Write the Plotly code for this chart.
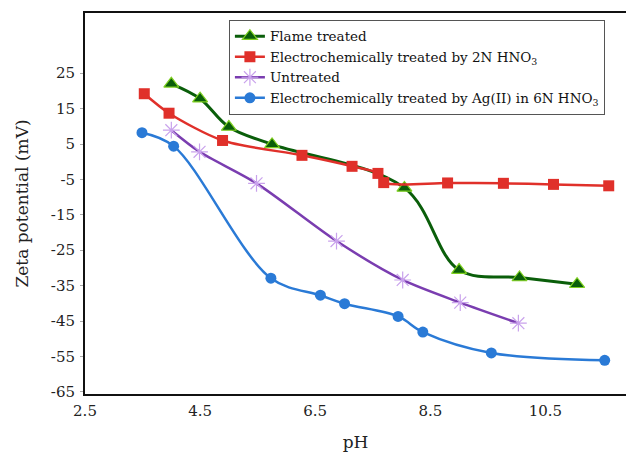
import plotly.graph_objects as go

# Data
flame_x = [4.0, 4.5, 5.0, 5.75, 8.05, 9.0, 10.05, 11.05]
flame_y = [22.0, 17.8, 9.8, 4.9, -7.4, -30.6, -32.7, -34.6]

hno3_x = [3.53, 3.96, 4.89, 6.27, 7.14, 7.59, 7.69, 8.80, 9.77, 10.64, 11.60]
hno3_y = [19.2, 13.7, 6.0, 1.8, -1.3, -3.3, -5.9, -6.0, -6.1, -6.4, -6.8]

untr_x = [4.0, 4.49, 5.48, 6.87, 8.02, 9.02, 10.03]
untr_y = [8.9, 2.8, -6.1, -22.4, -33.4, -39.8, -45.6]

ag_x = [3.49, 4.04, 5.73, 6.59, 7.01, 7.94, 8.37, 9.56, 11.53]
ag_y = [8.2, 4.4, -32.9, -37.7, -40.1, -43.7, -48.1, -54.0, -56.1]

x_ticks = [2.5, 4.5, 6.5, 8.5, 10.5]
y_ticks = [25, 15, 5, -5, -15, -25, -35, -45, -55, -65]

names = [
    "Flame treated",
    "Electrochemically treated by 2N HNO<sub>3</sub>",
    "Untreated",
    "Electrochemically treated by Ag(II) in 6N HNO<sub>3</sub>",
]

FONT = "DejaVu Serif"

fig = go.Figure()
fig.add_trace(go.Scatter(
    x=flame_x, y=flame_y, name=names[0], mode="lines+markers",
    line=dict(color="#0a5e0a", width=3, shape="spline", smoothing=1.0),
    marker=dict(symbol="triangle-up", size=13, color="#0a5e0a",
                line=dict(color="#7fd020", width=1.2)),
))
fig.add_trace(go.Scatter(
    x=hno3_x, y=hno3_y, name=names[1], mode="lines+markers",
    line=dict(color="#e0302a", width=2.5, shape="spline", smoothing=0.8),
    marker=dict(symbol="square", size=11, color="#e0302a"),
))
fig.add_trace(go.Scatter(
    x=untr_x, y=untr_y, name=names[2], mode="lines+markers",
    line=dict(color="#7a3db0", width=2.5, shape="spline", smoothing=0.8),
    marker=dict(symbol="asterisk-open", size=14, color="#c9a2ec",
                line=dict(color="#c9a2ec", width=1.2)),
))
fig.add_trace(go.Scatter(
    x=ag_x, y=ag_y, name=names[3], mode="lines+markers",
    line=dict(color="#2a7ad6", width=2.5, shape="spline", smoothing=1.0),
    marker=dict(symbol="circle", size=11, color="#2a7ad6"),
))

fig.update_layout(
    width=626, height=452,
    margin=dict(l=85, r=0, t=13, b=58),
    paper_bgcolor="white", plot_bgcolor="white",
    font=dict(family=FONT, size=15, color="#222"),
    showlegend=True,
    legend=dict(
        x=0.266, y=0.982, xanchor="left", yanchor="top",
        bgcolor="white", bordercolor="#555", borderwidth=1,
        font=dict(family=FONT, size=13.5, color="#111"),
        tracegroupgap=0, itemwidth=30,
    ),
    xaxis=dict(
        range=[2.5, 11.9], tickvals=x_ticks, ticktext=[str(v) for v in x_ticks],
        showline=True, linecolor="#111", linewidth=2, mirror=True,
        showgrid=False, zeroline=False, ticks="", ticklabelstandoff=2,
        automargin=False,
        title=dict(text="pH", font=dict(family=FONT, size=17), standoff=24),
    ),
    yaxis=dict(
        range=[-65.6, 42], tickvals=y_ticks, ticktext=[str(v) for v in y_ticks],
        showline=True, linecolor="#111", linewidth=2,
        showgrid=False, zeroline=False, ticks="outside", ticklen=3,
        tickcolor="#aaa", ticklabelstandoff=2, automargin=False,
        title=dict(text="Zeta potential (mV)", font=dict(family=FONT, size=17), standoff=18),
    ),
)

fig.write_html("out.html")
